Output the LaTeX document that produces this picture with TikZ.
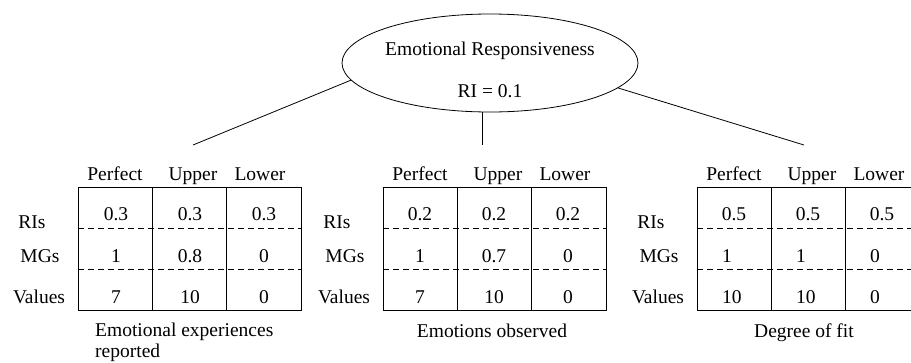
\documentclass[tikz,border=0pt]{standalone}
\usepackage{fontspec}
\setmainfont{Liberation Serif}
\usetikzlibrary{shapes.geometric}

\begin{document}
\begin{tikzpicture}[x=1pt,y=-1pt,
    font=\fontsize{19.5}{21}\selectfont,
    txt/.style={anchor=base,inner sep=0pt},
    txtl/.style={anchor=base west,inner sep=0pt},
    rule/.style={line width=0.8pt},
    sep/.style={line width=0.8pt,dash pattern=on 6pt off 4pt}]
  \useasboundingbox (0,0) rectangle (911,362);

  % Nodo raiz
  \node[draw, ellipse, rule, minimum width=296pt, minimum height=98pt,
        inner sep=0pt, outer sep=0pt] (resp) at (490,63) {};
  \node[txt] (resptitle) at (490,55) {Emotional Responsiveness};
  \node[txt] (respri) at (490,97) {RI = 0.1};

  % Extremos de las ramas
  \coordinate (expend) at (193,145);
  \coordinate (obsend) at (482,145);
  \coordinate (fitend) at (804,145);
  \draw[rule] (resp.187) -- (expend);
  \draw[rule] (resp.south -| obsend) -- (obsend);
  \draw[rule] (resp.-11) -- (fitend);

  % Tablas
  \foreach \t/\x in {exp/78,obs/383,fit/697} {
    \draw[rule] (\x,187) rectangle (\x+223,310);
    \draw[rule] (\x+74,187) -- (\x+74,310);
    \draw[rule] (\x+148,187) -- (\x+148,310);
    \draw[sep] (\x,228) -- (\x+223,228);
    \draw[sep] (\x,269) -- (\x+223,269);
    \node[txt] (\t perf) at (\x+37,180) {Perfect};
    \node[txt] (\t upper) at (\x+115,180) {Upper};
    \node[txt] (\t lower) at (\x+182,180) {Lower};
    \node[txt] (\t ris) at (\x-46,228) {RIs};
    \node[txt] (\t mgs) at (\x-38,262) {MGs};
    \node[txt] (\t vals) at (\x-39,303) {Values};
  }

  % Valores: Emotional experiences reported
  \foreach \c/\r/\m/\v in {0/0.3/1/7, 1/0.3/0.8/10, 2/0.3/0/0} {
    \node[txt] (expr\c) at (78+74*\c+38,220) {\r};
    \node[txt] (expm\c) at (78+74*\c+38,262) {\m};
    \node[txt] (expv\c) at (78+74*\c+38,303) {\v};
  }
  % Valores: Emotions observed
  \foreach \c/\r/\m/\v in {0/0.2/1/7, 1/0.2/0.7/10, 2/0.2/0/0} {
    \node[txt] (obsr\c) at (383+74*\c+37,220) {\r};
    \node[txt] (obsm\c) at (383+74*\c+37,262) {\m};
    \node[txt] (obsv\c) at (383+74*\c+37,303) {\v};
  }
  % Valores: Degree of fit
  \foreach \c/\r/\m/\v in {0/0.5/1/10, 1/0.5/1/10, 2/0.5/0/0} {
    \node[txt] (fitr\c) at (697+74*\c+37,220) {\r};
    \node[txtl] (fitm\c) at (697+74*\c+25,262) {\m};
    \node[txtl] (fitv\c) at (697+74*\c+25,303) {\v};
  }

  % Titulos
  \node[anchor=north west, inner sep=0pt, align=left] (exptitle) at (95,323)
    {Emotional experiences\\reported};
  \node[txt] (obstitle) at (492,337) {Emotions observed};
  \node[txt] (fittitle) at (804,337) {Degree of fit};
\end{tikzpicture}
\end{document}
